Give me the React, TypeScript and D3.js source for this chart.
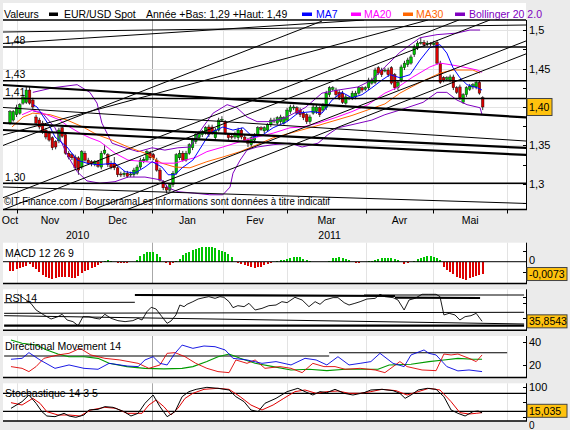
import React from "react";
import * as d3 from "d3";

// ---------------- data ----------------
const opens = [
  1.379,1.383,1.390,1.392,1.405,1.406,1.422,1.409,1.387,1.383,
  1.379,1.370,1.366,1.360,1.355,1.356,1.373,1.364,1.340,1.338,
  1.335,1.334,1.322,1.340,1.331,1.329,1.326,1.329,1.322,1.340,
  1.338,1.327,1.327,1.321,1.313,1.312,1.314,1.312,1.312,1.314,
  1.322,1.330,1.331,1.340,1.338,1.331,1.318,1.303,1.296,1.292,
  1.299,1.314,1.334,1.340,1.331,1.340,1.347,1.355,1.360,1.364,
  1.366,1.374,1.374,1.360,1.370,1.383,1.381,1.364,1.362,1.361,
  1.360,1.370,1.361,1.357,1.351,1.357,1.364,1.373,1.369,1.370,
  1.377,1.382,1.379,1.381,1.379,1.383,1.394,1.399,1.399,1.396,
  1.392,1.390,1.381,1.392,1.394,1.399,1.396,1.399,1.416,1.423,
  1.422,1.419,1.418,1.405,1.411,1.412,1.413,1.418,1.425,1.423,
  1.425,1.431,1.432,1.451,1.448,1.447,1.448,1.451,1.442,1.425,
  1.435,1.451,1.455,1.457,1.468,1.477,1.483,1.484,1.482,1.483,
  1.481,1.484,1.457,1.438,1.436,1.435,1.439,1.425,1.426,1.406,
  1.416,1.423,1.426,1.426,1.432,1.412,
];
const highs = [
  1.396,1.396,1.403,1.405,1.416,1.426,1.426,1.412,1.390,1.386,
  1.382,1.373,1.369,1.362,1.357,1.373,1.375,1.366,1.343,1.340,
  1.338,1.336,1.344,1.343,1.334,1.331,1.331,1.331,1.343,1.351,
  1.340,1.330,1.335,1.323,1.316,1.317,1.317,1.316,1.321,1.325,
  1.334,1.335,1.344,1.343,1.340,1.334,1.321,1.305,1.299,1.301,
  1.317,1.340,1.344,1.343,1.343,1.353,1.360,1.366,1.369,1.370,
  1.375,1.377,1.377,1.373,1.386,1.388,1.383,1.366,1.365,1.368,
  1.373,1.373,1.364,1.360,1.362,1.366,1.375,1.375,1.375,1.379,
  1.386,1.386,1.388,1.390,1.388,1.399,1.403,1.403,1.401,1.399,
  1.395,1.392,1.390,1.403,1.403,1.401,1.405,1.421,1.427,1.427,
  1.425,1.422,1.421,1.416,1.414,1.421,1.421,1.427,1.427,1.427,
  1.438,1.438,1.451,1.453,1.451,1.451,1.451,1.453,1.444,1.435,
  1.455,1.460,1.464,1.468,1.481,1.486,1.490,1.487,1.486,1.484,
  1.486,1.487,1.460,1.440,1.440,1.442,1.442,1.427,1.429,1.418,
  1.427,1.430,1.431,1.435,1.435,1.414,
];
const lows = [
  1.377,1.381,1.387,1.390,1.403,1.404,1.403,1.396,1.377,1.371,
  1.365,1.358,1.355,1.344,1.345,1.353,1.360,1.338,1.332,1.331,
  1.318,1.312,1.319,1.329,1.325,1.323,1.323,1.321,1.319,1.338,
  1.322,1.319,1.318,1.309,1.309,1.309,1.308,1.309,1.309,1.312,
  1.319,1.327,1.329,1.331,1.331,1.316,1.303,1.292,1.288,1.290,
  1.296,1.312,1.331,1.329,1.329,1.338,1.344,1.352,1.357,1.361,
  1.364,1.361,1.364,1.357,1.368,1.381,1.364,1.357,1.358,1.358,
  1.357,1.358,1.355,1.348,1.348,1.355,1.361,1.369,1.366,1.368,
  1.374,1.379,1.377,1.378,1.377,1.381,1.391,1.396,1.390,1.387,
  1.383,1.378,1.378,1.390,1.391,1.387,1.394,1.396,1.413,1.421,
  1.413,1.409,1.404,1.403,1.409,1.409,1.410,1.416,1.419,1.421,
  1.422,1.429,1.430,1.442,1.439,1.445,1.439,1.429,1.422,1.422,
  1.432,1.448,1.452,1.455,1.465,1.474,1.481,1.478,1.479,1.479,
  1.478,1.455,1.430,1.432,1.434,1.432,1.422,1.417,1.409,1.404,
  1.413,1.421,1.423,1.423,1.416,1.396,
];
const closes = [
  1.394,1.394,1.399,1.403,1.413,1.422,1.405,1.400,1.379,1.374,
  1.368,1.361,1.357,1.347,1.348,1.370,1.362,1.340,1.335,1.334,
  1.321,1.318,1.342,1.331,1.327,1.326,1.329,1.323,1.340,1.344,
  1.325,1.322,1.321,1.312,1.312,1.314,1.310,1.313,1.318,1.322,
  1.331,1.332,1.342,1.334,1.334,1.318,1.305,1.295,1.292,1.299,
  1.314,1.338,1.340,1.331,1.340,1.351,1.357,1.364,1.366,1.368,
  1.373,1.364,1.366,1.370,1.383,1.384,1.366,1.360,1.361,1.365,
  1.370,1.361,1.357,1.353,1.360,1.364,1.373,1.371,1.373,1.377,
  1.383,1.383,1.386,1.387,1.386,1.396,1.400,1.400,1.392,1.390,
  1.386,1.381,1.387,1.400,1.400,1.390,1.403,1.418,1.425,1.425,
  1.416,1.412,1.406,1.413,1.412,1.418,1.418,1.425,1.422,1.425,
  1.435,1.435,1.448,1.444,1.442,1.448,1.442,1.431,1.425,1.432,
  1.452,1.457,1.461,1.465,1.478,1.483,1.484,1.481,1.483,1.482,
  1.483,1.457,1.432,1.435,1.438,1.439,1.425,1.419,1.412,1.416,
  1.425,1.427,1.429,1.432,1.418,1.400,
];

const ma7: [number, number][] = [
  [7,1.403],[8.3,1.400],[12.3,1.374],[13.8,1.361],[17.5,1.348],[20.6,1.331],[23.6,1.327],[26.7,1.325],
  [32.2,1.327],[35.3,1.316],[38.3,1.314],[41.4,1.322],[43.6,1.329],[46.6,1.322],[48.5,1.312],[50.6,1.312],
  [52.8,1.321],[56.1,1.331],[61.3,1.366],[65.3,1.374],[68.4,1.370],[71.5,1.373],[74.5,1.361],[77.6,1.364],
  [80.7,1.373],[85,1.381],[88.3,1.392],[92.6,1.394],[95.7,1.392],[98.8,1.409],[101.8,1.419],[104.9,1.412],
  [108,1.416],[111,1.425],[114.1,1.435],[116.6,1.442],[119.6,1.438],[122.7,1.442],[125.8,1.461],[128.8,1.477],
  [131.9,1.481],[134,1.470],[135.9,1.451],[138,1.438],[140.2,1.429],[143.3,1.425],[144.8,1.422],
];
const ma20: [number, number][] = [
  [3.7,1.390],[7,1.396],[11.3,1.390],[15.3,1.383],[17.5,1.376],[21.5,1.366],[24.5,1.360],[27.6,1.355],
  [32.2,1.340],[36.2,1.331],[41.4,1.329],[46.6,1.327],[50.6,1.327],[53.7,1.331],[56.7,1.334],[60.4,1.342],
  [65.3,1.348],[70.6,1.355],[75.8,1.361],[80.7,1.366],[85.9,1.373],[89.6,1.374],[94.5,1.379],[99.7,1.386],
  [104.9,1.394],[109.8,1.403],[115,1.418],[118.7,1.425],[123.6,1.439],[128.8,1.452],[131.9,1.457],[135,1.455],
  [139,1.452],[143.3,1.448],[144.8,1.445],
];
const ma30: [number, number][] = [
  [0.6,1.374],[4,1.387],[7,1.392],[12.3,1.390],[17.5,1.383],[22.4,1.374],[26.7,1.364],[31.3,1.357],
  [36.2,1.348],[41.4,1.340],[46.6,1.327],[50.6,1.322],[55.2,1.321],[60.4,1.329],[65.3,1.335],[70.6,1.342],
  [75.8,1.351],[80.7,1.360],[85.9,1.366],[94.5,1.376],[104.9,1.389],[115,1.404],[119.6,1.418],[125.8,1.432],
  [131.9,1.444],[135.9,1.448],[142,1.448],[144.2,1.444],
];
const bollUpper: [number, number][] = [
  [7,1.419],[13.2,1.425],[20.6,1.429],[24.5,1.419],[26.7,1.405],[28.2,1.379],[31.3,1.353],[35.3,1.347],
  [39.3,1.342],[43.6,1.347],[47.5,1.344],[51.5,1.347],[55.2,1.348],[59.2,1.374],[62.3,1.392],[66.6,1.403],
  [69.6,1.399],[72.7,1.387],[75.8,1.381],[79.8,1.381],[84.4,1.386],[90.5,1.399],[95.7,1.418],[100.6,1.422],
  [106.7,1.426],[111,1.435],[115,1.452],[119.6,1.471],[125.8,1.490],[131,1.494],[137.1,1.496],[141.1,1.500],
  [144.2,1.500],
];
const bollLower: [number, number][] = [
  [7,1.395],[10,1.392],[13.8,1.373],[17.5,1.338],[20.6,1.316],[23.6,1.304],[27.6,1.301],[32.2,1.303],
  [36.2,1.309],[41.4,1.309],[46.6,1.305],[48.5,1.295],[51.5,1.290],[56.7,1.288],[61.3,1.286],[65.3,1.286],
  [67.5,1.296],[68.4,1.314],[70.6,1.331],[72.7,1.344],[75.8,1.348],[80.7,1.351],[85.9,1.353],[89.6,1.348],
  [94.5,1.353],[97.5,1.364],[100.6,1.373],[104.9,1.377],[111,1.383],[115,1.390],[119.6,1.396],[126.7,1.406],
  [131,1.419],[134,1.419],[137.1,1.409],[140.2,1.403],[144.2,1.399],[144.8,1.390],
];

// support / resistance drawn on the chart: [dayIndex1, price1, dayIndex2, price2]
const priceLevels = [1.478, 1.434, 1.411, 1.301];
const trendThin: [number, number, number, number][] = [
  [-2.15,1.4974,158.3,1.5065],
  [-2.15,1.4825,108.6,1.513],
  [-2.15,1.3994,158.3,1.3558],
  [-2.15,1.2961,158.3,1.2747],
  [-2.15,1.3636,128.2,1.513],
  [-2.15,1.35,95.7,1.5116],
  [-2.15,1.2821,137.7,1.513],
  [-2.15,1.2665,147.2,1.513],
  [25.2,1.2662,158.3,1.4858],
  [35.6,1.2662,158.3,1.469],
];
const trendThick: [number, number, number, number][] = [
  [-2.15,1.4286,158.3,1.3864],
  [-2.15,1.3792,158.3,1.3468],
  [-2.15,1.3701,158.3,1.3377],
];

const macdHist = [
  -0.0055,-0.0053,-0.0044,-0.0036,-0.0030,-0.0024,-0.0014,-0.0030,-0.0046,-0.0063,
  -0.0079,-0.0089,-0.0099,-0.0103,-0.0099,-0.0091,-0.0089,-0.0091,-0.0093,-0.0095,
  -0.0095,-0.0087,-0.0069,-0.0055,-0.0048,-0.0040,-0.0032,-0.0022,-0.0008,0.0006,
  0.0010,0.0006,-0.0002,-0.0006,-0.0008,-0.0008,-0.0006,-0.0004,0.0001,0.0010,
  0.0034,0.0046,0.0055,0.0059,0.0055,0.0043,0.0025,-0.0004,-0.0010,-0.0018,
  -0.0010,0.0002,0.0019,0.0037,0.0052,0.0060,0.0069,0.0075,0.0081,0.0087,
  0.0089,0.0089,0.0087,0.0081,0.0072,0.0066,0.0058,0.0043,0.0025,-0.0004,
  -0.0008,-0.0014,-0.0020,-0.0026,-0.0032,-0.0036,-0.0034,-0.0030,-0.0022,-0.0014,
  -0.0008,-0.0002,0.0006,0.0008,0.0010,0.0014,0.0020,0.0028,0.0030,0.0026,
  0.0018,0.0012,0.0006,-0.0002,-0.0004,-0.0004,-0.0002,0.0001,0.0006,0.0020,
  0.0024,0.0026,0.0024,0.0016,0.0008,-0.0004,-0.0008,-0.0008,-0.0004,0.0001,
  0.0002,0.0004,0.0010,0.0016,0.0022,0.0024,0.0024,0.0022,0.0016,0.0010,
  -0.0004,-0.0014,-0.0010,-0.0002,0.0006,0.0014,0.0022,0.0030,0.0034,0.0034,
  0.0030,0.0024,0.0010,-0.0030,-0.0050,-0.0063,-0.0075,-0.0089,-0.0099,-0.0105,
  -0.0109,-0.0099,-0.0093,-0.0087,-0.0079,-0.0073,
];

const rsi14: [number, number][] = [
  [2.5,85.3],[6.4,68.8],[8,56.6],[10.4,47.5],[12.6,40.1],[14.7,44.4],[16,48.7],[17.5,38.3],[19.3,35.3],
  [20.9,27.9],[22.4,44.4],[24.2,44.4],[26.1,41.4],[27.6,40.1],[29.1,48.7],[31,41.4],[33.1,37.1],[35.3,35.3],
  [37.7,37.1],[39.3,41.4],[40.5,38.3],[42,53.5],[43.3,61.5],[44.8,58.4],[46.6,44.4],[48.2,32.2],[49.4,36.5],
  [50.9,47.5],[52.1,65.7],[53.4,62.7],[54.3,67],[56.1,71.8],[57.7,76.7],[59.5,79.2],[61,81],[62.9,77.9],
  [64.4,81],[65.6,79.8],[67.2,71.8],[68.4,60.9],[69.9,64.5],[71.8,62.7],[73.3,68.8],[75.2,56.6],[77.3,59.6],
  [79.4,64.5],[81.6,65.7],[83.4,71.8],[85,70],[87.4,79.8],[89.6,74.9],[91.7,62.7],[93.6,71.8],[95.1,67],
  [96.6,74.9],[99.1,79.2],[100.6,79.2],[102.5,70],[104,65.7],[105.8,68.8],[107.4,71.8],[109.5,76.7],[112,77.9],
  [113.5,85.3],[115,81],[117.5,79.2],[119,74.9],[120.9,56.6],[122.4,74.9],[124.2,77.9],[126.4,85.3],[128.5,85.3],
  [130.7,85.3],[131.9,81],[133.1,47.5],[134.7,50.5],[136.5,47.5],[138,38.3],[139.6,44.4],[141.4,46.2],[143,50.5],
  [144.8,35.8543],
];
const rsiThick: [number, number, number, number][] = [
  [38.3,84,118.1,82.2],
  [118.1,79.1,144.2,78.5],
  [-1.8,27.9,157.7,27.9],
];
const rsiThin: [number, number, number, number][] = [
  [-1.8,69.9,38.3,70.7],
  [108.6,84,157.7,84],
  [-1.8,50.5,157.7,52.4],
  [-1.8,46.2,157.7,31],
];

const dmPlus: [number, number][] = [
  [0.3,24.9],[3.7,25.7],[5.8,30.6],[9.2,24.3],[13.8,17.1],[18.1,20],[22.7,17.1],[27,16.3],[30.4,21.4],
  [35.9,19.1],[39.3,18.6],[41.4,24.3],[43.9,27.1],[46,21.4],[48.2,20],[50.6,30],[52.8,37.1],[56.1,34.3],
  [59.5,36.3],[62.9,35.7],[66,32.9],[68.4,25.7],[72.7,24.3],[77.3,21.4],[81.6,22.9],[86.2,20],[90.5,25.7],
  [93.9,24.3],[97.2,20],[100.6,27.1],[104,20],[107.4,21.4],[110.7,22.9],[113.5,30],[117.5,21.4],[120.9,18.6],
  [123,28.6],[127,32.9],[128.5,30],[130.7,28.6],[134,18.6],[137.4,14.9],[140.8,15.7],[144.8,14.3],
];
const dmMinus: [number, number][] = [
  [0.3,18.6],[3.7,17.1],[5.8,14.3],[8,18.6],[10.4,25.7],[14.7,28.6],[18.1,30],[21.5,34.3],[24.8,28.6],
  [29.1,25.7],[33.7,24.3],[39.3,21.4],[42.6,17.1],[46,20],[48.2,30],[50.6,30.6],[53.7,27.1],[57,21.4],
  [60.4,17.1],[63.8,14.3],[67.2,13.4],[69.3,24.3],[72.7,21.4],[75.2,24.3],[78.2,17.1],[82.8,18.6],[86.2,17.1],
  [89.6,13.4],[92.9,21.4],[96.3,18.6],[99.7,18.6],[102.8,16.3],[107.4,17.1],[112,15.7],[115,13.4],[119.6,22.9],
  [121.8,18.6],[126.4,15.7],[130.7,15.1],[133.1,29.4],[135.3,28.6],[137.4,29.4],[140.8,25.7],[143,22.9],
  [144.8,28.6],
];
const adx: [number, number][] = [
  [0.3,41.4],[3.7,38.6],[8,37.1],[11.3,32.9],[14.7,29.4],[18.1,27.1],[22.7,27.1],[27,25.7],[30.4,21.4],
  [35.9,18.6],[41.4,17.1],[47.2,16.6],[52.8,17.1],[56.1,18.6],[60.4,22.9],[63.8,27.1],[67.2,29.4],[70.6,25.7],
  [75.2,21.4],[80.7,18.6],[86.2,15.7],[91.7,16.3],[97.2,15.1],[102.8,16.3],[108.6,16.3],[112.9,16.3],[116.3,20],
  [123,20.6],[128.5,22.9],[133.1,24.3],[137.4,25.7],[142,24.9],[144.8,24.9],
];
const dmRef: [number, number, number, number][] = [
  [-1.8,27.7,97.9,27.7],
  [97.9,30.5,152.5,30.5],
];

const stochK: [number, number][] = [
  [0.3,29.9],[3.7,52.1],[5.8,74.3],[8,46.6],[9.8,18.8],[11.3,4.4],[13.8,2.1],[16.6,13.3],[18.1,4.4],[20.2,0],
  [22.7,7.7],[24.2,24.4],[27,26.6],[29.1,35.5],[31.6,33.2],[35,18.8],[37.1,4.4],[39.3,13.3],[41.4,46.6],
  [43.9,74.3],[46,35.5],[48.2,2.1],[50.6,18.8],[52.8,68.8],[54.9,85.5],[57.1,93.2],[60.4,99.9],[63.8,96.6],
  [67.2,91],[69.3,68.8],[71.8,52.1],[73.9,24.4],[76.1,18.8],[78.2,46.6],[81.6,63.2],[85,85.5],[88.3,96.6],
  [90.5,85.5],[92.9,74.3],[95.1,85.5],[97.2,82.1],[99.7,93.2],[102.5,79.9],[105.2,74.3],[108.6,82.1],[110.7,91],
  [114.1,93.2],[117.5,88.8],[119.6,79.9],[121.2,63.2],[123,74.3],[125.2,91],[128,96.6],[130.7,93.2],[133.1,68.8],
  [135.3,24.4],[137.4,13.3],[139.6,4.4],[142,18.8],[143.6,21],[144.8,15.035],
];
const stochD: [number, number][] = [
  [0.3,48.8],[3.7,41],[7,63.2],[9.2,46.6],[11.3,18.8],[14.7,7.7],[18.1,7.7],[21.5,4.4],[24.8,24.4],[29.1,33.2],
  [32.5,29.9],[35.9,13.3],[40.5,13.3],[42.6,41],[44.8,57.7],[47.2,35.5],[49.4,7.7],[51.5,29.9],[53.7,63.2],
  [56.1,79.9],[59.5,93.2],[63.8,96.6],[67.2,93.2],[70.6,68.8],[73.9,41],[77.3,24.4],[80.7,41],[84,63.2],
  [87.4,85.5],[90.5,91],[93.9,79.9],[97.2,85.5],[100.6,87.7],[104,79.9],[107.4,79.9],[110.7,85.5],[114.1,93.2],
  [118.4,88.8],[121.8,74.3],[125.2,85.5],[128.5,96.6],[131.9,91],[135.3,52.1],[138,15.5],[140.8,11],[143,13.3],
  [144.8,15.5],
];
const stochLevels = [80, 20];

const monthBounds = [2.15, 22.4, 43.6, 65.3, 85, 109.2, 129.8, 152.5];
const monthNames = ["Oct", "Nov", "Dec", "Jan", "Fev", "Mar", "Avr", "Mai"];
const yearBound = 43.6;
const yearNames = ["2010", "2011"];

const priceTicks = [1.275, 1.3, 1.325, 1.35, 1.375, 1.4, 1.425, 1.45, 1.475, 1.5];
const priceLabels = [1.3, 1.35, 1.4, 1.45, 1.5];
const macdTicks = [0.0065, -0.006];
const rsiTicks = [81, 69, 42.5];
const dmTicks = [40, 20];
const stochTicks = [100, 50, 0];
const stochLabels = [100, 0];

// ---------------- layout ----------------
const FONT = "'Liberation Sans', Arial, Helvetica, sans-serif";
const LEFT = 3;
const RIGHT = 526;
const xS = d3.scaleLinear().domain([0, 145]).range([10, 482.7]);
const iL = xS.invert(LEFT);

type P = { id: string; top: number; bottom: number; y: d3.ScaleLinear<number, number> };
const pMain: P = { id: "cMain", top: 20, bottom: 209.5, y: d3.scaleLinear().domain([1.2662, 1.513]).range([210, 20]) };
const pMacd: P = { id: "cMacd", top: 242.7, bottom: 283.5, y: d3.scaleLinear().domain([-0.0128, 0.01127]).range([283.3, 242.7]) };
const pRsi: P = { id: "cRsi", top: 289.3, bottom: 330.3, y: d3.scaleLinear().domain([20, 95]).range([330, 289]) };
const pDm: P = { id: "cDm", top: 336, bottom: 377.5, y: d3.scaleLinear().domain([9.4, 44.9]).range([377.3, 336]) };
const pSt: P = { id: "cSt", top: 383.3, bottom: 421, y: d3.scaleLinear().domain([-12.3, 113.3]).range([421, 383.3]) };
const panels = [pMain, pMacd, pRsi, pDm, pSt];

const fr = (f: string) => (v: number) => d3.format(f)(v).replace(".", ",").replace("\u2212", "-");
const crisp = (v: number) => Math.round(v) + 0.5;

const C_GREEN = "#00c400";
const C_RED = "#dc0000";
const BOX = "#ffc20e";

function pathOf(data: [number, number][], y: d3.ScaleLinear<number, number>) {
  return d3.line<[number, number]>().x((d) => xS(d[0])).y((d) => y(d[1]))(data) || "";
}

function Segs({ segs, p, w }: { segs: [number, number, number, number][]; p: P; w: number }) {
  return (
    <g clipPath={`url(#${p.id})`}>
      {segs.map((s, k) => (
        <line key={k} x1={xS(s[0])} y1={p.y(s[1])} x2={xS(s[2])} y2={p.y(s[3])} stroke="#000" strokeWidth={w} />
      ))}
    </g>
  );
}

function Back({ p }: { p: P }) {
  return (
    <g>
      <rect x={LEFT} y={p.top} width={RIGHT - LEFT} height={p.bottom - p.top} fill="#fff" />
      {monthBounds.map((b, k) => (
        <line key={k} x1={crisp(xS(b))} x2={crisp(xS(b))} y1={p.top} y2={p.bottom}
          stroke={b === yearBound ? "#a8a8a8" : "#e3e3e3"} strokeWidth={1} />
      ))}
    </g>
  );
}

function Border({ p, top }: { p: P; top?: boolean }) {
  return (
    <g>
      {top && <line x1={LEFT} x2={RIGHT} y1={p.top} y2={p.top} stroke="#000" strokeWidth={1.5} />}
      <line x1={LEFT} x2={RIGHT + 1} y1={p.bottom} y2={p.bottom} stroke="#000" strokeWidth={1.5} />
      <line x1={RIGHT + 0.5} x2={RIGHT + 0.5} y1={p.top} y2={p.bottom} stroke="#000" strokeWidth={1} />
    </g>
  );
}

function Ticks({ p, vals }: { p: P; vals: number[] }) {
  return (
    <g>
      {vals.map((v, k) => (
        <line key={k} x1={RIGHT - 3} x2={RIGHT} y1={crisp(p.y(v))} y2={crisp(p.y(v))} stroke="#000" strokeWidth={1} />
      ))}
    </g>
  );
}

function ValueBox({ y, text, w, h }: { y: number; text: string; w: number; h: number }) {
  return (
    <g>
      <rect x={RIGHT + 1} y={y - h / 2} width={w} height={h} fill={BOX} stroke="#444" strokeWidth={1} />
      <text x={RIGHT + 3} y={y + 4} fontSize={10.5}>{text}</text>
    </g>
  );
}

export default function App() {
  const last = closes.length - 1;
  const lastClose = closes[last];
  const yearLow = d3.min(lows) as number;
  const yearHigh = d3.max(highs) as number;
  const bodyW = 2.6;
  const stLast = stochK[stochK.length - 1][1];
  const rsiLast = rsi14[rsi14.length - 1][1];

  return (
    <svg width={570} height={430} style={{ position: "absolute", left: 0, top: 0 }} fontFamily={FONT} fontSize={10.5}>
      <defs>
        {panels.map((p) => (
          <clipPath key={p.id} id={p.id}>
            <rect x={LEFT} y={p.top} width={RIGHT - LEFT} height={p.bottom - p.top} />
          </clipPath>
        ))}
      </defs>
      <rect x={0} y={0} width={570} height={430} fill="#ebebeb" />
      <rect x={LEFT} y={3} width={RIGHT - LEFT} height={17} fill="#fff" />

      {/* legend */}
      <g>
        <text x={4} y={18}>Valeurs</text>
        <rect x={49} y={12.5} width={9} height={3.5} fill="#000" />
        <text x={64} y={18}>EUR/USD Spot</text>
        <text x={146} y={18}>{`Année +Bas: ${fr(".2f")(yearLow)} +Haut: ${fr(".2f")(yearHigh)}`}</text>
        <rect x={302} y={12.5} width={10} height={3.5} fill="#0000ff" />
        <text x={316} y={18} fill="#0000ff">MA7</text>
        <rect x={351} y={12.5} width={10} height={3.5} fill="#ff00ff" />
        <text x={364} y={18} fill="#ff00ff">MA20</text>
        <rect x={403} y={12.5} width={10} height={3.5} fill="#ff6600" />
        <text x={416} y={18} fill="#ff6600">MA30</text>
        <rect x={455} y={12.5} width={10} height={3.5} fill="#8000c0" />
        <text x={469} y={18} fill="#8000c0">Bollinger 20 2.0</text>
      </g>

      {/* ---------- main price panel ---------- */}
      <Back p={pMain} />
      {priceLabels.map((v, k) => (
        <line key={k} x1={LEFT} x2={RIGHT} y1={crisp(pMain.y(v))} y2={crisp(pMain.y(v))} stroke="#e3e3e3" />
      ))}
      <g clipPath={`url(#${pMain.id})`}>
        {closes.map((c, i) => {
          const o = opens[i];
          const up = c >= o;
          const cx = xS(i);
          const yT = pMain.y(Math.max(o, c));
          const yB = pMain.y(Math.min(o, c));
          return (
            <g key={i}>
              <line x1={cx} x2={cx} y1={pMain.y(highs[i])} y2={pMain.y(lows[i])} stroke="#000" strokeWidth={0.8} />
              <rect x={cx - bodyW / 2} y={yT} width={bodyW} height={Math.max(1, yB - yT)}
                fill={up ? C_GREEN : C_RED} stroke="#000" strokeWidth={0.4} />
            </g>
          );
        })}
        <path d={pathOf(bollUpper, pMain.y)} fill="none" stroke="#8000c0" strokeWidth={1} />
        <path d={pathOf(bollLower, pMain.y)} fill="none" stroke="#8000c0" strokeWidth={1} />
        <path d={pathOf(ma30, pMain.y)} fill="none" stroke="#ff6600" strokeWidth={1} />
        <path d={pathOf(ma20, pMain.y)} fill="none" stroke="#ff00ff" strokeWidth={1} />
        <path d={pathOf(ma7, pMain.y)} fill="none" stroke="#0000ff" strokeWidth={1} />
      </g>
      <Segs segs={trendThin} p={pMain} w={1} />
      <Segs segs={trendThick} p={pMain} w={2.2} />
      <g>
        {priceLevels.map((v, k) => (
          <g key={k}>
            <line x1={LEFT} x2={RIGHT} y1={pMain.y(v)} y2={pMain.y(v)} stroke="#000" strokeWidth={1.5} />
            <text x={5} y={pMain.y(v) - 2.5}>{fr(".2f")(v)}</text>
          </g>
        ))}
      </g>
      <text x={4} y={205} textLength={326} lengthAdjust="spacingAndGlyphs">
        ©IT-Finance.com / BoursoramaLes informations sont données à titre indicatif
      </text>
      <Border p={pMain} top />
      <Ticks p={pMain} vals={priceTicks} />
      {priceLabels
        .filter((v) => Math.abs(v - lastClose) > 0.012)
        .map((v, k) => (
          <text key={k} x={RIGHT + 3} y={pMain.y(v) + 4} fontSize={11}>{fr("~g")(v)}</text>
        ))}
      <ValueBox y={pMain.y(lastClose)} text={fr(".2f")(lastClose)} w={25} h={17} />

      {/* x axis */}
      {monthBounds.map((b, k) => (
        <line key={k} x1={crisp(xS(b))} x2={crisp(xS(b))} y1={pMain.bottom} y2={pMain.bottom + 4} stroke="#000" />
      ))}
      {monthNames.map((m, k) => {
        const a = k === 0 ? iL : monthBounds[k - 1];
        return (
          <text key={m} x={xS((a + monthBounds[k]) / 2)} y={223.5} textAnchor="middle">{m}</text>
        );
      })}
      {yearNames.map((yn, k) => {
        const a = k === 0 ? iL : yearBound;
        const b = k === 0 ? yearBound : monthBounds[monthBounds.length - 1];
        return (
          <text key={yn} x={xS((a + b) / 2)} y={238.5} textAnchor="middle">{yn}</text>
        );
      })}

      {/* ---------- MACD ---------- */}
      <Back p={pMacd} />
      <g clipPath={`url(#${pMacd.id})`} shapeRendering="crispEdges">
        {macdHist.map((v, i) => {
          const y0 = pMacd.y(0);
          const y1 = pMacd.y(v);
          return (
            <rect key={i} x={xS(i) - 1} y={Math.min(y0, y1)} width={2} height={Math.max(0.5, Math.abs(y1 - y0))}
              fill={v >= 0 ? C_GREEN : C_RED} />
          );
        })}
      </g>
      <line x1={LEFT} x2={RIGHT} y1={pMacd.y(0)} y2={pMacd.y(0)} stroke="#000" strokeWidth={1} />
      <text x={5} y={257}>MACD 12 26 9</text>
      <Border p={pMacd} />
      <Ticks p={pMacd} vals={macdTicks} />
      <text x={RIGHT + 3} y={pMacd.y(0) + 2} fontSize={11}>0</text>
      <ValueBox y={pMacd.y(macdHist[last])} text={fr(".4f")(macdHist[last])} w={40} h={13} />

      {/* ---------- RSI ---------- */}
      <Back p={pRsi} />
      <Segs segs={rsiThin} p={pRsi} w={1} />
      <Segs segs={rsiThick} p={pRsi} w={2.2} />
      <g clipPath={`url(#${pRsi.id})`}>
        <path d={pathOf(rsi14, pRsi.y)} fill="none" stroke="#000" strokeWidth={0.9} />
      </g>
      <text x={5} y={302}>RSI 14</text>
      <Border p={pRsi} />
      <Ticks p={pRsi} vals={rsiTicks} />
      <ValueBox y={pRsi.y(rsiLast)} text={fr(".4f")(rsiLast)} w={40} h={13} />

      {/* ---------- Directional movement ---------- */}
      <Back p={pDm} />
      <Segs segs={dmRef} p={pDm} w={1.2} />
      <g clipPath={`url(#${pDm.id})`}>
        <path d={pathOf(adx, pDm.y)} fill="none" stroke="#009a00" strokeWidth={1.1} />
        <path d={pathOf(dmMinus, pDm.y)} fill="none" stroke="#e00000" strokeWidth={0.9} />
        <path d={pathOf(dmPlus, pDm.y)} fill="none" stroke="#0000e0" strokeWidth={0.9} />
      </g>
      <text x={5} y={350}>Directional Movement 14</text>
      <Border p={pDm} />
      <Ticks p={pDm} vals={dmTicks} />
      {dmTicks.map((v, k) => (
        <text key={k} x={RIGHT + 3} y={pDm.y(v) + 4} fontSize={11}>{v}</text>
      ))}

      {/* ---------- Stochastic ---------- */}
      <Back p={pSt} />
      {stochLevels.map((v, k) => (
        <line key={k} x1={LEFT} x2={RIGHT} y1={pSt.y(v)} y2={pSt.y(v)} stroke="#000" strokeWidth={1.2} />
      ))}
      <g clipPath={`url(#${pSt.id})`}>
        <path d={pathOf(stochD, pSt.y)} fill="none" stroke="#e00000" strokeWidth={1} />
        <path d={pathOf(stochK, pSt.y)} fill="none" stroke="#000" strokeWidth={1} />
      </g>
      <text x={5} y={397}>Stochastique 14 3 5</text>
      <Border p={pSt} />
      <Ticks p={pSt} vals={stochTicks} />
      <text x={RIGHT + 3} y={pSt.y(stochLabels[0]) + 4} fontSize={11}>{stochLabels[0]}</text>
      <text x={RIGHT + 3} y={429} fontSize={10}>{stochLabels[1]}</text>
      <ValueBox y={pSt.y(stLast) - 2} text={fr(".3f")(stLast)} w={40} h={13} />
    </svg>
  );
}
